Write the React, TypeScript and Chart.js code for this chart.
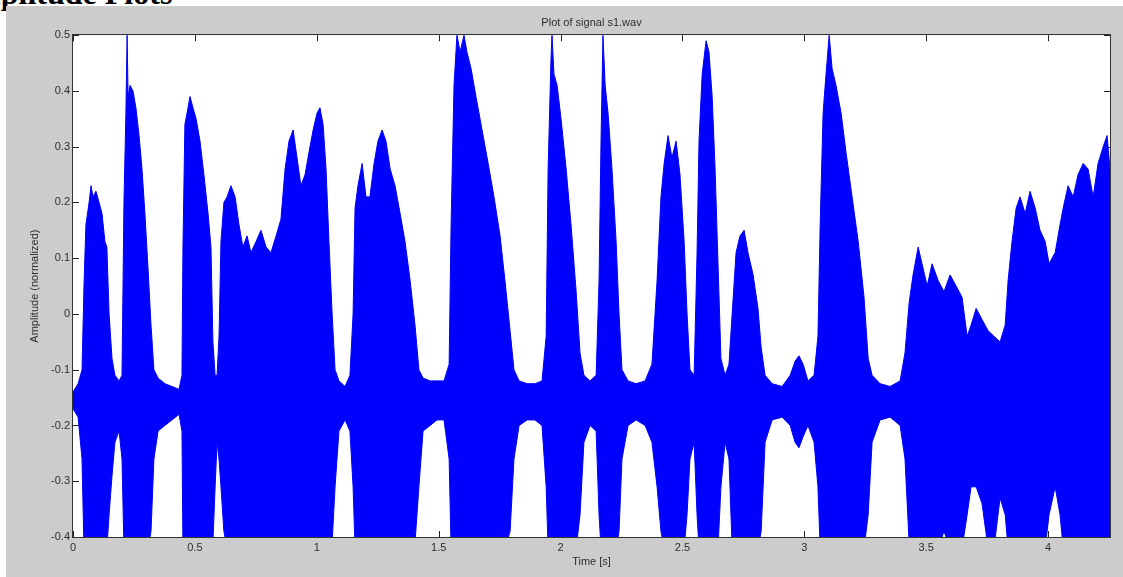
import React, { useEffect, useRef } from "react";
import { Chart, registerables } from "chart.js";

Chart.register(...registerables);

// Time (s) of envelope key points
const times = [
  0.000, 0.021, 0.037, 0.045, 0.053, 0.066, 0.074, 0.082, 0.094, 0.107,
  0.119, 0.131, 0.139, 0.148, 0.160, 0.172, 0.189, 0.201, 0.209, 0.217,
  0.222, 0.226, 0.234, 0.246, 0.258, 0.271, 0.283, 0.295, 0.308, 0.320,
  0.332, 0.349, 0.377, 0.406, 0.435, 0.447, 0.451, 0.459, 0.472, 0.480,
  0.492, 0.505, 0.521, 0.537, 0.554, 0.566, 0.574, 0.583, 0.591, 0.599,
  0.607, 0.619, 0.632, 0.648, 0.665, 0.681, 0.697, 0.714, 0.730, 0.751,
  0.771, 0.792, 0.812, 0.833, 0.853, 0.870, 0.886, 0.903, 0.919, 0.935,
  0.952, 0.968, 0.985, 1.001, 1.013, 1.026, 1.038, 1.050, 1.063, 1.075,
  1.091, 1.116, 1.136, 1.149, 1.157, 1.169, 1.186, 1.202, 1.218, 1.235,
  1.251, 1.268, 1.284, 1.301, 1.321, 1.342, 1.362, 1.383, 1.403, 1.419,
  1.436, 1.465, 1.493, 1.522, 1.543, 1.551, 1.563, 1.575, 1.588, 1.604,
  1.616, 1.633, 1.653, 1.678, 1.703, 1.727, 1.752, 1.772, 1.793, 1.809,
  1.830, 1.863, 1.895, 1.924, 1.941, 1.949, 1.961, 1.965, 1.973, 1.986,
  2.002, 2.023, 2.043, 2.064, 2.080, 2.096, 2.121, 2.146, 2.158, 2.166,
  2.174, 2.183, 2.195, 2.211, 2.228, 2.240, 2.252, 2.277, 2.310, 2.347,
  2.375, 2.396, 2.412, 2.425, 2.441, 2.457, 2.474, 2.490, 2.507, 2.519,
  2.531, 2.548, 2.560, 2.568, 2.581, 2.597, 2.609, 2.622, 2.634, 2.646,
  2.658, 2.675, 2.691, 2.704, 2.720, 2.736, 2.753, 2.769, 2.790, 2.810,
  2.823, 2.839, 2.868, 2.909, 2.942, 2.962, 2.978, 2.995, 3.015, 3.040,
  3.056, 3.065, 3.077, 3.089, 3.102, 3.114, 3.130, 3.151, 3.171, 3.196,
  3.221, 3.245, 3.262, 3.278, 3.311, 3.352, 3.393, 3.413, 3.430, 3.446,
  3.467, 3.483, 3.504, 3.524, 3.549, 3.573, 3.598, 3.623, 3.647, 3.668,
  3.684, 3.705, 3.729, 3.754, 3.778, 3.803, 3.824, 3.836, 3.852, 3.869,
  3.885, 3.906, 3.926, 3.947, 3.967, 3.988, 4.004, 4.029, 4.049, 4.062,
  4.082, 4.103, 4.123, 4.144, 4.164, 4.185, 4.205, 4.226, 4.242, 4.254,
];

// Upper envelope of the signal (normalized amplitude)
const upperEnvelope = [
  -0.14, -0.125, -0.1, 0.05, 0.16, 0.2, 0.23, 0.21, 0.22, 0.2,
  0.18, 0.13, 0.12, 0.0, -0.08, -0.11, -0.12, -0.11, 0.2, 0.36,
  0.5, 0.39, 0.41, 0.4, 0.37, 0.32, 0.26, 0.18, 0.08, -0.02,
  -0.1, -0.115, -0.125, -0.13, -0.135, -0.11, 0.12, 0.34, 0.37, 0.39,
  0.37, 0.35, 0.31, 0.25, 0.18, 0.12, -0.05, -0.11, -0.11, -0.04,
  0.13, 0.2, 0.21, 0.23, 0.21, 0.16, 0.12, 0.14, 0.11, 0.13,
  0.15, 0.12, 0.11, 0.14, 0.17, 0.26, 0.31, 0.33, 0.28, 0.23,
  0.25, 0.29, 0.33, 0.36, 0.37, 0.34, 0.26, 0.13, 0.0, -0.1,
  -0.12, -0.13, -0.11, 0.0, 0.19, 0.23, 0.27, 0.21, 0.21, 0.27,
  0.31, 0.33, 0.31, 0.26, 0.23, 0.18, 0.13, 0.06, -0.02, -0.1,
  -0.115, -0.12, -0.12, -0.12, -0.09, 0.16, 0.41, 0.5, 0.47, 0.5,
  0.47, 0.44, 0.39, 0.33, 0.27, 0.21, 0.14, 0.06, -0.03, -0.1,
  -0.12, -0.125, -0.125, -0.12, -0.04, 0.26, 0.46, 0.5, 0.43, 0.41,
  0.35, 0.26, 0.16, 0.04, -0.07, -0.11, -0.12, -0.11, 0.06, 0.31,
  0.5, 0.41, 0.36, 0.26, 0.13, 0.0, -0.1, -0.12, -0.125, -0.12,
  -0.09, 0.06, 0.21, 0.27, 0.32, 0.28, 0.31, 0.25, 0.13, 0.0,
  -0.1, -0.11, 0.11, 0.31, 0.43, 0.49, 0.47, 0.39, 0.26, 0.09,
  -0.08, -0.11, -0.09, 0.0, 0.11, 0.14, 0.15, 0.11, 0.07, 0.01,
  -0.06, -0.11, -0.125, -0.13, -0.11, -0.085, -0.075, -0.09, -0.12, -0.11,
  -0.04, 0.16, 0.36, 0.43, 0.5, 0.44, 0.41, 0.36, 0.29, 0.21,
  0.13, 0.03, -0.08, -0.11, -0.125, -0.13, -0.12, -0.07, 0.02, 0.07,
  0.12, 0.09, 0.05, 0.09, 0.06, 0.04, 0.07, 0.05, 0.03, -0.04,
  -0.02, 0.01, -0.01, -0.03, -0.04, -0.05, -0.02, 0.06, 0.13, 0.19,
  0.21, 0.18, 0.22, 0.19, 0.15, 0.13, 0.09, 0.11, 0.16, 0.19,
  0.23, 0.21, 0.25, 0.27, 0.26, 0.21, 0.27, 0.3, 0.32, 0.26,
];

// Lower envelope of the signal (clipped by the axis at -0.4)
const lowerEnvelope = [
  -0.17, -0.185, -0.26, -0.42, -0.42, -0.42, -0.42, -0.42, -0.42, -0.42,
  -0.42, -0.42, -0.42, -0.36, -0.29, -0.23, -0.21, -0.26, -0.42, -0.42,
  -0.42, -0.42, -0.42, -0.42, -0.42, -0.42, -0.42, -0.42, -0.42, -0.39,
  -0.26, -0.21, -0.2, -0.19, -0.18, -0.21, -0.42, -0.42, -0.42, -0.42,
  -0.42, -0.42, -0.42, -0.42, -0.42, -0.42, -0.41, -0.31, -0.23, -0.26,
  -0.31, -0.39, -0.42, -0.42, -0.42, -0.42, -0.42, -0.42, -0.42, -0.42,
  -0.42, -0.42, -0.42, -0.42, -0.42, -0.42, -0.42, -0.42, -0.42, -0.42,
  -0.42, -0.42, -0.42, -0.42, -0.42, -0.42, -0.42, -0.42, -0.41, -0.31,
  -0.21, -0.19, -0.21, -0.31, -0.42, -0.42, -0.42, -0.42, -0.42, -0.42,
  -0.42, -0.42, -0.42, -0.42, -0.42, -0.42, -0.42, -0.42, -0.41, -0.31,
  -0.21, -0.2, -0.19, -0.19, -0.26, -0.42, -0.42, -0.42, -0.42, -0.42,
  -0.42, -0.42, -0.42, -0.42, -0.42, -0.42, -0.42, -0.42, -0.39, -0.26,
  -0.2, -0.19, -0.19, -0.2, -0.31, -0.42, -0.42, -0.42, -0.42, -0.42,
  -0.42, -0.42, -0.42, -0.42, -0.36, -0.23, -0.2, -0.21, -0.36, -0.42,
  -0.42, -0.42, -0.42, -0.42, -0.42, -0.39, -0.26, -0.2, -0.19, -0.2,
  -0.23, -0.31, -0.39, -0.42, -0.42, -0.42, -0.42, -0.42, -0.42, -0.36,
  -0.26, -0.23, -0.36, -0.42, -0.42, -0.42, -0.42, -0.42, -0.42, -0.42,
  -0.31, -0.23, -0.26, -0.42, -0.42, -0.42, -0.42, -0.42, -0.42, -0.42,
  -0.39, -0.23, -0.19, -0.185, -0.2, -0.23, -0.24, -0.22, -0.2, -0.23,
  -0.31, -0.42, -0.42, -0.42, -0.42, -0.42, -0.42, -0.42, -0.42, -0.42,
  -0.42, -0.42, -0.36, -0.23, -0.19, -0.185, -0.2, -0.26, -0.41, -0.42,
  -0.42, -0.42, -0.41, -0.42, -0.42, -0.39, -0.42, -0.41, -0.42, -0.36,
  -0.31, -0.31, -0.34, -0.42, -0.42, -0.33, -0.36, -0.42, -0.42, -0.42,
  -0.42, -0.42, -0.42, -0.42, -0.42, -0.42, -0.36, -0.31, -0.36, -0.42,
  -0.42, -0.42, -0.42, -0.42, -0.42, -0.42, -0.42, -0.42, -0.42, -0.42,
];

const xTickValues = [0, 0.5, 1, 1.5, 2, 2.5, 3, 3.5, 4];
const xTickLabels = ["0", "0.5", "1", "1.5", "2", "2.5", "3", "3.5", "4"];
const yTickValues = [-0.4, -0.3, -0.2, -0.1, 0, 0.1, 0.2, 0.3, 0.4, 0.5];
const yTickLabels = ["-0.4", "-0.3", "-0.2", "-0.1", "0", "0.1", "0.2", "0.3", "0.4", "0.5"];

const X_MIN = 0;
const X_MAX = 4.254;
const Y_MIN = -0.4;
const Y_MAX = 0.5;

const SIGNAL_BLUE = "#0000ff";
const TEXT_GRAY = "#2e2e2e";
const FONT = "'Liberation Sans', Arial, sans-serif";

const matlabAxes = {
  id: "matlabAxes",
  beforeDraw(chart: any) {
    const { ctx, chartArea } = chart;
    ctx.save();
    ctx.fillStyle = "#ffffff";
    ctx.fillRect(chartArea.left, chartArea.top, chartArea.right - chartArea.left, chartArea.bottom - chartArea.top);
    ctx.restore();
  },
  beforeDatasetsDraw(chart: any) {
    const { ctx, chartArea, scales } = chart;
    const { left, top, right, bottom } = chartArea;
    const len = 6;
    ctx.save();
    ctx.strokeStyle = "#222";
    ctx.lineWidth = 1;
    ctx.beginPath();
    scales.x.ticks.forEach((t: any) => {
      const px = Math.round(scales.x.getPixelForValue(t.value)) + 0.5;
      ctx.moveTo(px, bottom);
      ctx.lineTo(px, bottom - len);
      ctx.moveTo(px, top);
      ctx.lineTo(px, top + len);
    });
    scales.y.ticks.forEach((t: any) => {
      const py = Math.round(scales.y.getPixelForValue(t.value)) + 0.5;
      ctx.moveTo(left, py);
      ctx.lineTo(left + len, py);
      ctx.moveTo(right, py);
      ctx.lineTo(right - len, py);
    });
    ctx.stroke();
    ctx.restore();
  },
  afterDatasetsDraw(chart: any) {
    const { ctx, chartArea } = chart;
    const { left, top, right, bottom } = chartArea;
    ctx.save();
    ctx.strokeStyle = "#333";
    ctx.lineWidth = 1;
    ctx.strokeRect(Math.round(left) - 0.5, Math.round(top) - 0.5, Math.round(right - left) + 1, Math.round(bottom - top) + 1);
    ctx.restore();
  },
};

export default function App() {
  const canvasRef = useRef<HTMLCanvasElement | null>(null);

  useEffect(() => {
    if (!canvasRef.current) return;
    const lowerPts = times.map((t, i) => ({ x: t, y: lowerEnvelope[i] }));
    const upperPts = times.map((t, i) => ({ x: t, y: upperEnvelope[i] }));
    const chart = new Chart(canvasRef.current, {
      type: "line",
      data: {
        datasets: [
          {
            label: "lower",
            data: lowerPts,
            borderColor: SIGNAL_BLUE,
            borderWidth: 1,
            pointRadius: 0,
            tension: 0,
            fill: false,
          },
          {
            label: "s1.wav",
            data: upperPts,
            borderColor: SIGNAL_BLUE,
            backgroundColor: SIGNAL_BLUE,
            borderWidth: 1,
            pointRadius: 0,
            tension: 0,
            fill: "-1",
          },
        ],
      },
      options: {
        animation: false,
        responsive: false,
        events: [],
        layout: { padding: { left: 0, right: 13, top: 0, bottom: 0 } },
        plugins: {
          legend: { display: false },
          tooltip: { enabled: false },
          title: {
            display: true,
            text: "Plot of signal s1.wav",
            fullSize: false,
            color: TEXT_GRAY,
            font: { family: FONT, size: 11, weight: "normal" },
            padding: { top: 10, bottom: 6 },
          },
        },
        scales: {
          x: {
            type: "linear",
            min: X_MIN,
            max: X_MAX,
            grid: { display: false, drawTicks: false },
            border: { display: false },
            afterBuildTicks: (scale: any) => {
              scale.ticks = xTickValues.map((v) => ({ value: v }));
            },
            afterFit: (scale: any) => {
              scale.height = 40;
            },
            ticks: {
              includeBounds: false,
              autoSkip: false,
              maxRotation: 0,
              padding: 4,
              color: TEXT_GRAY,
              font: { family: FONT, size: 11 },
              callback: (_v: any, i: number) => xTickLabels[i],
            },
            title: {
              display: true,
              text: "Time [s]",
              color: TEXT_GRAY,
              font: { family: FONT, size: 11 },
              padding: { top: 0, bottom: 8 },
            },
          },
          y: {
            type: "linear",
            min: Y_MIN,
            max: Y_MAX,
            grid: { display: false, drawTicks: false },
            border: { display: false },
            afterBuildTicks: (scale: any) => {
              scale.ticks = yTickValues.map((v) => ({ value: v }));
            },
            afterFit: (scale: any) => {
              scale.width = 67;
            },
            ticks: {
              includeBounds: false,
              autoSkip: false,
              padding: 3,
              color: TEXT_GRAY,
              font: { family: FONT, size: 11 },
              callback: (_v: any, i: number) => yTickLabels[i],
            },
            title: {
              display: true,
              text: "Amplitude (normalized)",
              color: TEXT_GRAY,
              font: { family: FONT, size: 11 },
              padding: { top: 22, bottom: 0 },
            },
          },
        },
      },
      plugins: [matlabAxes],
    });
    return () => chart.destroy();
  }, []);

  return (
    <div
      style={{
        position: "absolute",
        left: 0,
        top: 0,
        width: 1123,
        height: 577,
        background: "#ffffff",
        overflow: "hidden",
      }}
    >
      <div
        style={{
          position: "absolute",
          left: -49,
          top: -23,
          fontFamily: "'Liberation Serif', 'Times New Roman', serif",
          fontWeight: "bold",
          fontSize: 32,
          lineHeight: "32px",
          whiteSpace: "nowrap",
          color: "#000",
        }}
      >
        Amplitude Plots
      </div>
      <canvas
        ref={canvasRef}
        width={1117}
        height={571}
        style={{
          position: "absolute",
          left: 6,
          top: 6,
          width: 1117,
          height: 571,
          background: "#cccccc",
        }}
      />
    </div>
  );
}
